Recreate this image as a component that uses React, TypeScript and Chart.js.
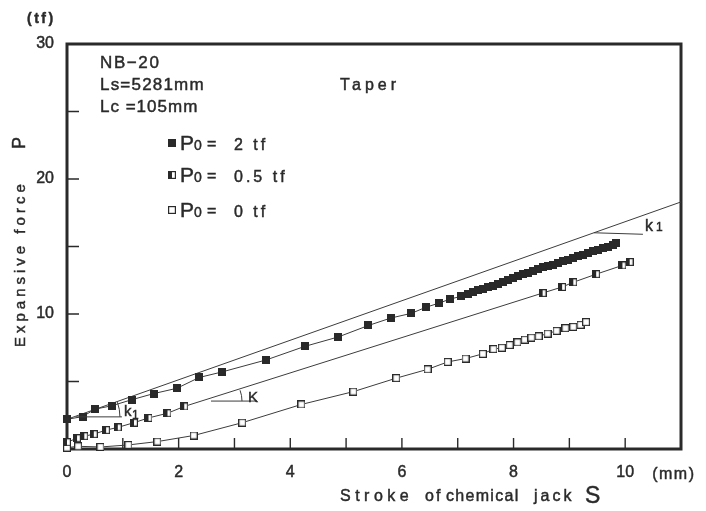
import { useEffect, useRef } from 'react';
import { Chart, registerables } from 'chart.js';

Chart.register(...registerables);

// Stroke S (mm) and expansive force P (tf) for each initial load P0
const strokeP2 = [0, 0.28, 0.5, 0.8, 1.16, 1.55, 1.97, 2.37, 2.77, 3.57, 4.26, 4.86, 5.4, 5.8, 6.17, 6.43, 6.66, 6.86, 7.05,
  7.18, 7.27, 7.36, 7.45, 7.54, 7.63, 7.72, 7.81, 7.9, 7.99, 8.08, 8.17, 8.26, 8.35, 8.44, 8.53, 8.62, 8.71, 8.8, 8.89,
  8.98, 9.07, 9.16, 9.25, 9.34, 9.43, 9.52, 9.61, 9.7, 9.78, 9.84];
const forceP2 = [2.2, 2.4, 2.95, 3.2, 3.65, 4.1, 4.5, 5.3, 5.7, 6.6, 7.6, 8.3, 9.15, 9.7, 10.05, 10.5, 10.8, 11.1, 11.3,
  11.45, 11.6, 11.75, 11.85, 12.0, 12.1, 12.25, 12.4, 12.5, 12.65, 12.8, 12.95, 13.05, 13.2, 13.3, 13.45, 13.55, 13.65, 13.8, 13.9,
  14.0, 14.15, 14.3, 14.4, 14.5, 14.65, 14.75, 14.9, 15.0, 15.1, 15.25];

const strokeP05 = [0, 0.18, 0.31, 0.48, 0.7, 0.91, 1.2, 1.46, 1.8, 2.1, 8.52, 8.87, 9.07, 9.48, 9.95, 10.08];
const forceP05 = [0.5, 0.8, 0.95, 1.1, 1.4, 1.6, 1.95, 2.3, 2.65, 3.15, 11.55, 12.0, 12.35, 12.95, 13.6, 13.85];

const strokeP0 = [0, 0.2, 0.6, 1.1, 1.62, 2.27, 3.14, 4.2, 5.13, 5.9, 6.46, 6.82, 7.14, 7.45, 7.64, 7.79, 7.93, 8.07,
  8.2, 8.32, 8.45, 8.61, 8.77, 8.93, 9.07, 9.2, 9.3];
const forceP0 = [0.1, 0.2, 0.15, 0.3, 0.55, 1.0, 1.95, 3.3, 4.25, 5.25, 5.9, 6.45, 6.7, 7.05, 7.4, 7.5, 7.7, 7.9,
  8.1, 8.25, 8.35, 8.55, 8.75, 8.95, 9.05, 9.2, 9.4];

// Initial stiffness line k1
const k1Stroke = [0, 11];
const k1Force = [2.2, 18.3];

const xTickLabels = [0, 2, 4, 6, 8, 10];
const yTickLabels = [10, 20, 30];
const legendValues = ['2 tf', '0.5 tf', '0 tf'];
const headerLines = ['NB\u221220', 'Ls=5281mm', 'Lc =105mm'];

const INK = '#2a2a2a';
const LINE = '#3c3c3c';
const FONT = '"Liberation Sans", Arial, sans-serif';

type MarkerKind = 'filled' | 'half' | 'open';

function makeMarker(kind: MarkerKind): HTMLCanvasElement {
  const c = document.createElement('canvas');
  c.width = 8;
  c.height = 8;
  const g = c.getContext('2d')!;
  g.fillStyle = '#fff';
  g.fillRect(0, 0, 8, 8);
  g.fillStyle = INK;
  if (kind === 'filled') g.fillRect(0, 0, 8, 8);
  if (kind === 'half') g.fillRect(1, 1, 3, 6);
  g.strokeStyle = INK;
  g.lineWidth = 1.2;
  g.strokeRect(0.6, 0.6, 6.8, 6.8);
  return c;
}

function pts(xs: number[], ys: number[]) {
  return xs.map((x, i) => ({ x, y: ys[i] }));
}

function drawText(ctx: CanvasRenderingContext2D, s: string, x: number, y: number, size: number,
  spacing = 0, weight = 'normal', align: CanvasTextAlign = 'left') {
  ctx.font = `${weight} ${size}px ${FONT}`;
  (ctx as any).letterSpacing = `${spacing}px`;
  ctx.textAlign = align;
  ctx.textBaseline = 'alphabetic';
  ctx.fillStyle = INK;
  ctx.strokeStyle = INK;
  ctx.lineWidth = 0.45;
  ctx.fillText(s, x, y);
  ctx.strokeText(s, x, y);
  (ctx as any).letterSpacing = '0px';
}

export default function App() {
  const ref = useRef<HTMLCanvasElement | null>(null);

  useEffect(() => {
    const canvas = ref.current;
    if (!canvas) return;
    const markers = {
      filled: makeMarker('filled'),
      half: makeMarker('half'),
      open: makeMarker('open'),
    };

    const framePlugin = {
      id: 'frame',
      beforeDatasetsDraw(chart: any) {
        const { ctx, chartArea: a, scales } = chart;
        const x = scales.x;
        const y = scales.y;
        ctx.save();
        ctx.strokeStyle = INK;
        ctx.lineWidth = 1.4;
        ctx.beginPath();
        x.ticks.forEach((t: any) => {
          if (t.value <= 0 || t.value >= 11) return;
          const px = x.getPixelForValue(t.value);
          ctx.moveTo(px, a.bottom);
          ctx.lineTo(px, a.bottom - 11);
        });
        y.ticks.forEach((t: any) => {
          if (t.value <= 0 || t.value >= 30) return;
          const py = y.getPixelForValue(t.value);
          ctx.moveTo(a.left, py);
          ctx.lineTo(a.left + 12, py);
        });
        ctx.stroke();
        ctx.lineWidth = 3;
        ctx.strokeRect(a.left, a.top, a.right - a.left, a.bottom - a.top);
        ctx.restore();
      },
      afterDatasetsDraw(chart: any) {
        const { ctx, scales } = chart;
        const x = scales.x;
        const y = scales.y;
        ctx.save();

        // angle of the k1 line and of the K segment in pixel space
        const k1Ang = Math.atan2(
          y.getPixelForValue(k1Force[0]) - y.getPixelForValue(k1Force[1]),
          x.getPixelForValue(k1Stroke[1]) - x.getPixelForValue(k1Stroke[0]));
        const kAng = Math.atan2(
          y.getPixelForValue(forceP05[9]) - y.getPixelForValue(forceP05[10]),
          x.getPixelForValue(strokeP05[10]) - x.getPixelForValue(strokeP05[9]));

        const seg = (x1: number, y1: number, x2: number, y2: number) => {
          ctx.strokeStyle = LINE;
          ctx.lineWidth = 1;
          ctx.beginPath();
          ctx.moveTo(x1, y1);
          ctx.lineTo(x2, y2);
          ctx.stroke();
        };
        const arc = (cx: number, cy: number, r: number, a0: number) => {
          ctx.strokeStyle = LINE;
          ctx.lineWidth = 1;
          ctx.beginPath();
          ctx.arc(cx, cy, r, a0, 0);
          ctx.stroke();
        };

        // k1 angle mark near the origin
        const vx = x.getPixelForValue(0.16);
        const vy = y.getPixelForValue(2.38);
        seg(vx, vy, vx + 46, vy);
        arc(vx, vy, 44, -k1Ang);
        drawText(ctx, 'k', vx + 48, vy - 1, 15);
        drawText(ctx, '1', vx + 56, vy + 2, 12);

        // K angle mark
        const kx = x.getPixelForValue(2.58);
        const ky = y.getPixelForValue(3.55);
        seg(kx, ky, kx + 46, ky);
        arc(kx, ky, 31, -kAng - 0.05);
        drawText(ctx, 'K', kx + 37, ky + 1, 15);

        // k1 leader at the upper right
        const lx = x.getPixelForValue(9.44);
        const ly = y.getPixelForValue(k1Force[0] + (k1Force[1] - k1Force[0]) * 9.44 / 11);
        seg(lx, ly, lx + 49, ly + 1.5);
        drawText(ctx, 'k', lx + 51, ly - 2, 16);
        drawText(ctx, '1', lx + 62, ly - 2, 12);

        // units of the axes
        drawText(ctx, '(mm)', x.getPixelForValue(10) + 27, 479, 16, 1.5);
        drawText(ctx, '(tf)', 27, 23, 14, 2.5, 'bold');

        // header block
        drawText(ctx, headerLines[0], 100, 68, 17, 1.6);
        drawText(ctx, headerLines[1], 100, 90, 17, 1.2);
        drawText(ctx, headerLines[2], 100, 112, 17, 1.0);
        drawText(ctx, 'Taper', 340, 90, 16, 4);

        // legend
        const kinds: MarkerKind[] = ['filled', 'half', 'open'];
        const baselines = [150, 182, 217];
        legendValues.forEach((v, i) => {
          const b = baselines[i];
          ctx.drawImage(markers[kinds[i]], 168, b - 11, 8, 8);
          drawText(ctx, 'P', 180, b, 21);
          drawText(ctx, '0', 194, b, 14);
          drawText(ctx, '=', 207, b - 1, 16);
          drawText(ctx, v, 234, b, 16, 3);
        });

        // axis titles
        ctx.save();
        ctx.translate(25, 347);
        ctx.rotate(-Math.PI / 2);
        drawText(ctx, 'Expansive force', 0, 0, 15, 4);
        drawText(ctx, 'P', 198, 0, 18);
        ctx.restore();

        const tb = 501;
        drawText(ctx, 'Stroke', 340, tb, 16, 4.5);
        drawText(ctx, 'of', 425, tb, 16, 2);
        drawText(ctx, 'chemical', 446, tb, 16, 1.3);
        drawText(ctx, 'jack', 534, tb, 16, 3);
        drawText(ctx, 'S', 585, tb + 2, 23);
        ctx.restore();
      },
    };

    const common = {
      showLine: true,
      borderColor: LINE,
      borderWidth: 1,
      tension: 0,
      clip: false as any,
      pointRadius: 4,
      pointHoverRadius: 4,
    };

    const tickFont = { family: FONT, size: 16 };

    const chart = new Chart(canvas, {
      type: 'scatter',
      data: {
        datasets: [
          { ...common, label: 'P0 = 2 tf', data: pts(strokeP2, forceP2), pointStyle: markers.filled },
          { ...common, label: 'P0 = 0.5 tf', data: pts(strokeP05, forceP05), pointStyle: markers.half },
          { ...common, label: 'P0 = 0 tf', data: pts(strokeP0, forceP0), pointStyle: markers.open },
          { ...common, label: 'k1', data: pts(k1Stroke, k1Force), pointRadius: 0 },
        ],
      },
      options: {
        animation: false,
        responsive: false,
        devicePixelRatio: 1,
        layout: { padding: { top: 44, right: 25, left: 0, bottom: 0 } },
        plugins: { legend: { display: false }, tooltip: { enabled: false } },
        scales: {
          x: {
            type: 'linear',
            min: 0,
            max: 11,
            afterFit: (s: any) => { s.height = 62; },
            grid: { display: false, drawTicks: false },
            border: { display: false },
            ticks: {
              stepSize: 1,
              autoSkip: false,
              maxRotation: 0,
              padding: 14,
              color: INK,
              textStrokeColor: INK,
              textStrokeWidth: 0.45,
              font: tickFont,
              callback: (v: any) => (xTickLabels.includes(Number(v)) ? String(v) : ''),
            },
          },
          y: {
            type: 'linear',
            min: 0,
            max: 30,
            afterFit: (s: any) => { s.width = 67; },
            grid: { display: false, drawTicks: false },
            border: { display: false },
            ticks: {
              stepSize: 5,
              autoSkip: false,
              padding: 13,
              color: INK,
              textStrokeColor: INK,
              textStrokeWidth: 0.45,
              font: tickFont,
              callback: (v: any) => (yTickLabels.includes(Number(v)) ? String(v) : ''),
            },
          },
        },
      },
      plugins: [framePlugin],
    });

    return () => chart.destroy();
  }, []);

  return (
    <div style={{ position: 'fixed', left: 0, top: 0, width: 706, height: 511, background: '#fff' }}>
      <canvas ref={ref} width={706} height={511} style={{ display: 'block' }} />
    </div>
  );
}
